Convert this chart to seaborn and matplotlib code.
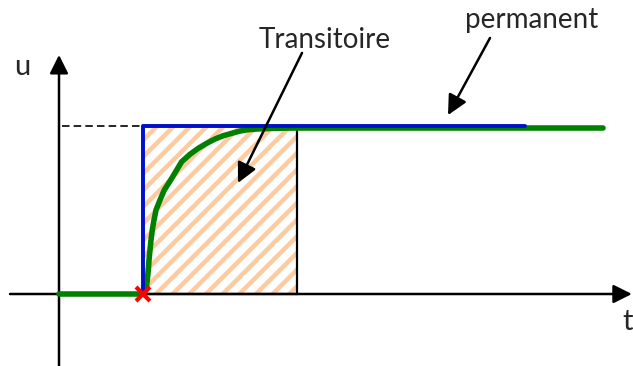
import numpy as np
import pandas as pd
import matplotlib
matplotlib.use("Agg")
import matplotlib.pyplot as plt
from matplotlib.patches import Rectangle
import seaborn as sns

# ---- data (time t, amplitude u) ----
resp_t = [0.0, 1.0, 1.0357, 1.0512, 1.0631, 1.0714, 1.0833, 1.0952, 1.1107, 1.1310,
          1.1548, 1.2024, 1.2536, 1.3298, 1.4607, 1.5595, 1.6583, 1.7583, 1.8571,
          1.9560, 2.0560, 2.1548, 2.2536, 2.3536, 2.5512, 2.8298, 6.4762]
resp_u = [0.0, 0.0, 0.0238, 0.0833, 0.1429, 0.2024, 0.2619, 0.3214, 0.3810, 0.4405,
          0.5000, 0.5595, 0.6190, 0.6786, 0.7875, 0.8315, 0.8673, 0.8970, 0.9226,
          0.9423, 0.9565, 0.9702, 0.9780, 0.9821, 0.9863, 0.9881, 0.9881]
step_t = [1.0, 1.0, 5.55]
step_u = [0.0, 1.0, 1.0]
step_time = 1.0
transient_end = 2.833
final_value = 1.0
dash_t = [0.04, 1.0]
labels = {"trans": "Transitoire", "perm": "permanent", "u": "u", "t": "t"}

sns.set_style("white")
plt.rcParams["font.family"] = ["Lato", "DejaVu Sans"]
plt.rcParams["hatch.linewidth"] = 3.2

fig = plt.figure(figsize=(6.33, 3.66), dpi=100)
ax = fig.add_axes([0, 0, 1, 1])

# hatched transient zone
ax.add_patch(Rectangle((step_time, 0), transient_end - step_time, final_value,
                       facecolor="none", edgecolor="#FCCBA0", hatch="//", lw=0, zorder=1))
ax.add_patch(Rectangle((step_time, 0), transient_end - step_time, final_value,
                       facecolor="none", edgecolor="black", lw=1.6, zorder=2))

# dashed reference
ax.plot(dash_t, [final_value, final_value], color="black", lw=1.2, ls=(0, (4.5, 2.5)), zorder=2)

# axes with arrows
arrow_kw = dict(arrowstyle="-|>", mutation_scale=28, lw=1.8, color="black",
                shrinkA=0, shrinkB=0)
ax.annotate("", xy=(6.82, 0), xytext=(-0.583, 0), arrowprops=arrow_kw, zorder=2)
ax.annotate("", xy=(0, 1.423), xytext=(0, -0.45), arrowprops=arrow_kw, zorder=2)

# step and response
df_resp = pd.DataFrame({"t": resp_t, "u": resp_u})
df_step = pd.DataFrame({"t": step_t, "u": step_u})
sns.lineplot(data=df_resp, x="t", y="u", sort=False, color="#008000", lw=4.0,
             ax=ax, zorder=3, estimator=None)
sns.lineplot(data=df_step, x="t", y="u", sort=False, color="#0010C8", lw=2.8,
             ax=ax, zorder=4, estimator=None)
ax.axis("off")
ax.set_xlim(-59 / 84, 574 / 84)
ax.set_ylim(-72 / 168, 294 / 168)

# red cross at the step instant
ax.plot([step_time], [0], marker="x", color="red", ms=10, mew=3, zorder=5)

# annotations
ann_kw = dict(arrowstyle="-|>", mutation_scale=30, lw=1.8, color="black",
              shrinkA=0, shrinkB=0)
ax.annotate("", xy=(2.131, 0.661), xytext=(2.893, 1.435), arrowprops=ann_kw, zorder=6)
ax.annotate("", xy=(4.631, 1.065), xytext=(5.131, 1.524), arrowprops=ann_kw, zorder=6)

ax.text(3.167, 1.464, labels["trans"], ha="center", va="baseline", fontsize=20)
ax.text(5.631, 1.583, labels["perm"], ha="center", va="baseline", fontsize=20)
ax.text(-0.435, 1.304, labels["u"], ha="center", va="baseline", fontsize=21)
ax.text(6.774, -0.214, labels["t"], ha="center", va="baseline", fontsize=21)

fig.savefig("out.png", dpi=100)
